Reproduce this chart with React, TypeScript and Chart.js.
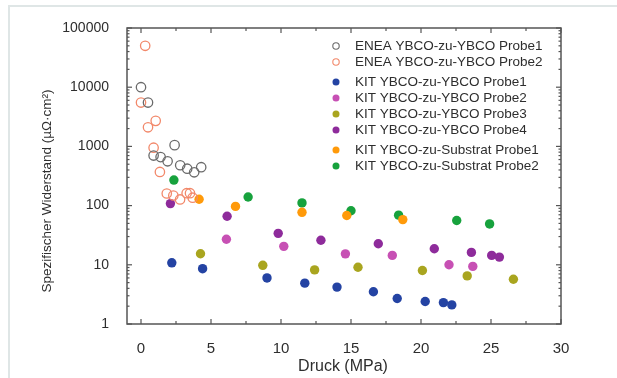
import React, { useEffect, useRef } from "react";
import { Chart, registerables } from "chart.js";

Chart.register(...registerables);

// Pressure (MPa) and specific contact resistance (µΩ·cm²) per sample
const enea1X = [0, 0.5, 0.9, 1.4, 1.9, 2.4, 2.8, 3.3, 3.8, 4.3];
const enea1Y = [10000, 5500, 700, 660, 560, 1050, 480, 420, 365, 445];

const enea2X = [0.3, 0, 0.5, 1.05, 0.9, 1.35, 1.84, 2.31, 2.79, 3.26, 3.5, 3.69];
const enea2Y = [50000, 5500, 2100, 2700, 950, 370, 160, 148, 127, 162, 162, 136];

const kit1X = [2.2, 4.4, 9.0, 11.7, 14.0, 16.6, 18.3, 20.3, 21.6, 22.2];
const kit1Y = [10.8, 8.6, 6.0, 4.9, 4.2, 3.5, 2.7, 2.4, 2.3, 2.1];

const kit2X = [6.1, 10.2, 14.6, 17.95, 22.0, 23.7];
const kit2Y = [27, 20.5, 15.3, 14.4, 10, 9.4];

const kit3X = [4.25, 8.7, 12.4, 15.5, 20.1, 23.3, 26.6];
const kit3Y = [15.4, 9.8, 8.2, 9.1, 8.0, 6.5, 5.7];

const kit4X = [2.1, 6.15, 9.8, 12.85, 16.95, 20.95, 23.6, 25.05, 25.6];
const kit4Y = [108, 66, 34, 26, 22.7, 18.7, 16.2, 14.4, 13.5];

const sub1X = [4.15, 6.75, 11.5, 14.7, 18.7];
const sub1Y = [128, 97, 77, 68, 58];

const sub2X = [2.35, 7.65, 11.5, 15.0, 18.4, 22.55, 24.9];
const sub2Y = [270, 140, 111, 82, 69, 56, 49];

const xMajorTicks = [0, 5, 10, 15, 20, 25, 30];
const xMinorTicks = [2.5, 7.5, 12.5, 17.5, 22.5, 27.5];
const yMajorTicks = [1, 10, 100, 1000, 10000, 100000];

const FONT = "'Liberation Sans', Arial, Helvetica, sans-serif";
const TEXT = "#2e2e2e";
const AXIS = "#555555";

const pts = (xs: number[], ys: number[]) => xs.map((x, i) => ({ x, y: ys[i] }));

type Series = { label: string; xs: number[]; ys: number[]; color: string; open: boolean; group: number };

const series: Series[] = [
  { label: "ENEA YBCO-zu-YBCO Probe1", xs: enea1X, ys: enea1Y, color: "#6a6a6a", open: true, group: 0 },
  { label: "ENEA YBCO-zu-YBCO Probe2", xs: enea2X, ys: enea2Y, color: "#f2886a", open: true, group: 0 },
  { label: "KIT YBCO-zu-YBCO Probe1", xs: kit1X, ys: kit1Y, color: "#2443a3", open: false, group: 1 },
  { label: "KIT YBCO-zu-YBCO Probe2", xs: kit2X, ys: kit2Y, color: "#c750b4", open: false, group: 1 },
  { label: "KIT YBCO-zu-YBCO Probe3", xs: kit3X, ys: kit3Y, color: "#a9a51f", open: false, group: 1 },
  { label: "KIT YBCO-zu-YBCO Probe4", xs: kit4X, ys: kit4Y, color: "#8e2b9b", open: false, group: 1 },
  { label: "KIT YBCO-zu-Substrat Probe1", xs: sub1X, ys: sub1Y, color: "#ff9a0a", open: false, group: 2 },
  { label: "KIT YBCO-zu-Substrat Probe2", xs: sub2X, ys: sub2Y, color: "#17a23d", open: false, group: 2 },
];

// Boxed axes with inward ticks on all four sides, axis titles and the grouped legend
const decorations = {
  id: "decorations",
  afterDraw(chart: any) {
    const { ctx, chartArea: a, scales } = chart;
    const xs = scales.x;
    const ys = scales.y;
    ctx.save();
    ctx.strokeStyle = AXIS;
    ctx.lineWidth = 1.5;
    ctx.strokeRect(a.left, a.top, a.right - a.left, a.bottom - a.top);

    ctx.lineWidth = 1.2;
    const tick = (x1: number, y1: number, x2: number, y2: number) => {
      ctx.beginPath();
      ctx.moveTo(x1, y1);
      ctx.lineTo(x2, y2);
      ctx.stroke();
    };
    const xTick = (v: number, len: number) => {
      const px = xs.getPixelForValue(v);
      tick(px, a.bottom, px, a.bottom - len);
      tick(px, a.top, px, a.top + len);
    };
    xMajorTicks.forEach((v) => xTick(v, 5));
    xMinorTicks.forEach((v) => xTick(v, 3));
    const yTick = (v: number, len: number) => {
      const py = ys.getPixelForValue(v);
      tick(a.left, py, a.left + len, py);
      tick(a.right, py, a.right - len, py);
    };
    yMajorTicks.forEach((v) => yTick(v, 5));
    for (let d = 1; d < 100000; d *= 10) {
      for (let k = 2; k <= 9; k++) yTick(k * d, 2.5);
    }

    // axis titles
    ctx.fillStyle = TEXT;
    ctx.font = `16px ${FONT}`;
    ctx.textAlign = "center";
    ctx.textBaseline = "middle";
    ctx.fillText("Druck (MPa)", (a.left + a.right) / 2 - 1, 367);
    ctx.save();
    ctx.font = `13.5px ${FONT}`;
    ctx.translate(47, 191);
    ctx.rotate(-Math.PI / 2);
    ctx.fillText("Spezifischer Widerstand (µΩ·cm²)", 0, 0);
    ctx.restore();

    // legend
    ctx.font = `13.5px ${FONT}`;
    ctx.textAlign = "left";
    let y = 46;
    let prevGroup = 0;
    series.forEach((s, i) => {
      if (i > 0) y += 16 + (s.group !== prevGroup ? 4 : 0);
      prevGroup = s.group;
      ctx.beginPath();
      ctx.arc(336, y, s.open ? 3.2 : 3.5, 0, Math.PI * 2);
      if (s.open) {
        ctx.strokeStyle = s.color;
        ctx.lineWidth = 1.1;
        ctx.stroke();
      } else {
        ctx.fillStyle = s.color;
        ctx.fill();
      }
      ctx.fillStyle = TEXT;
      ctx.fillText(s.label, 355, y + 0.5);
    });
    ctx.restore();
  },
};

export default function App() {
  const canvasRef = useRef<HTMLCanvasElement | null>(null);

  useEffect(() => {
    if (!canvasRef.current) return;
    const chart = new Chart(canvasRef.current, {
      type: "scatter",
      data: {
        datasets: series.map((s) => ({
          label: s.label,
          data: pts(s.xs, s.ys),
          pointStyle: "circle",
          pointRadius: 4.7,
          pointBorderWidth: s.open ? 1.3 : 0,
          pointBorderColor: s.color,
          pointBackgroundColor: s.open ? "rgba(0,0,0,0)" : s.color,
          showLine: false,
        })),
      },
      options: {
        responsive: false,
        animation: false,
        events: [],
        layout: { padding: { top: 28, right: 56, bottom: 0, left: 0 } },
        plugins: { legend: { display: false }, tooltip: { enabled: false } },
        scales: {
          x: {
            type: "linear",
            min: -1,
            max: 30,
            grid: { display: false },
            border: { display: false },
            ticks: { padding: 8, color: TEXT, font: { family: FONT, size: 15 }, maxRotation: 0 },
            afterBuildTicks: (s: any) => {
              s.ticks = xMajorTicks.map((v) => ({ value: v }));
            },
            afterFit: (s: any) => {
              s.height = 54;
            },
          },
          y: {
            type: "logarithmic",
            min: 1,
            max: 100000,
            grid: { display: false },
            border: { display: false },
            ticks: {
              padding: 10,
              color: TEXT,
              font: { family: FONT, size: 14 },
              callback: (v: any) => String(v),
            },
            afterBuildTicks: (s: any) => {
              s.ticks = yMajorTicks.map((v) => ({ value: v }));
            },
            afterFit: (s: any) => {
              s.width = 127;
            },
          },
        },
      },
      plugins: [decorations],
    } as any);
    return () => chart.destroy();
  }, []);

  return (
    <div style={{ position: "fixed", left: 0, top: 0, width: 617, height: 378, background: "#fff", overflow: "hidden" }}>
      <div
        style={{
          position: "absolute",
          left: 8,
          top: 5,
          width: 640,
          height: 400,
          borderLeft: "2px solid #dfe6e6",
          borderTop: "2px solid #dfe6e6",
        }}
      />
      <canvas ref={canvasRef} width={617} height={378} style={{ position: "absolute", left: 0, top: 0 }} />
    </div>
  );
}
